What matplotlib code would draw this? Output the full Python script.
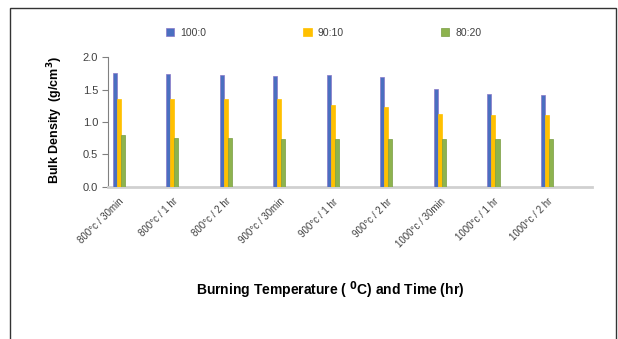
import matplotlib
matplotlib.use("Agg")
import matplotlib.pyplot as plt
import numpy as np
from matplotlib.patches import Rectangle

plt.rcParams["font.family"] = ["Liberation Sans", "DejaVu Sans"]

categories = ["800°c / 30min", "800°c / 1 hr", "800°c / 2 hr",
              "900°c / 30min", "900°c / 1 hr", "900°c / 2 hr",
              "1000°c / 30min", "1000°c / 1 hr", "1000°c / 2 hr"]
series = ["100:0", "90:10", "80:20"]
dens_100_0 = [1.76, 1.74, 1.73, 1.71, 1.73, 1.70, 1.51, 1.44, 1.42]
dens_90_10 = [1.36, 1.36, 1.36, 1.35, 1.27, 1.23, 1.12, 1.11, 1.11]
dens_80_20 = [0.80, 0.76, 0.76, 0.74, 0.74, 0.74, 0.73, 0.73, 0.73]

colors = ["#4a6fc0", "#ffc000", "#8db34e"]
edges = ["#8a78c8", "#ffc000", "#7a9c42"]

fig = plt.figure(figsize=(6.18, 3.39), dpi=100)
ax = fig.add_axes([108 / 618, 1 - 186.7 / 339, (592 - 108) / 618, (186.7 - 57.3) / 339])

# outer frame of the figure box (runs off the bottom)
fig.patches.append(Rectangle((10 / 618, -0.05), 606 / 618, 1.05 - 8 / 339,
                             transform=fig.transFigure, fill=False,
                             ec="#333333", lw=1.0))

x = np.arange(len(categories))
w = 0.075
for i, (vals, name) in enumerate(zip([dens_100_0, dens_90_10, dens_80_20], series)):
    ax.bar(x + (i - 1) * w, vals, width=w, color=colors[i], edgecolor=edges[i],
           lw=0.5, label=name, zorder=3)

ax.set_xlim(-0.2, 8.84)
ax.set_ylim(0, 2.0)
ax.set_yticks([0, 0.5, 1.0, 1.5, 2.0])
ax.set_yticklabels(["0.0", "0.5", "1.0", "1.5", "2.0"], fontsize=8, color="#404040")
ax.set_xticks(x)
ax.set_xticklabels(categories, rotation=45, ha="right", rotation_mode="anchor",
                   fontsize=7, color="#404040")
ax.tick_params(axis="x", length=0, pad=7)
ax.tick_params(axis="y", length=4, color="#808080", direction="out", pad=3)

for s in ["top", "right"]:
    ax.spines[s].set_visible(False)
ax.spines["left"].set_color("#808080")
ax.spines["bottom"].set_color("#d0d0d0")
ax.spines["bottom"].set_linewidth(2)

ax.legend(loc="lower left", bbox_to_anchor=(0.1, 1.08), ncol=3, frameon=False,
          fontsize=7.5, handlelength=0.8, handleheight=0.9, columnspacing=9.3,
          handletextpad=0.6, labelcolor="#404040")

fig.text(55 / 618, 1 - 120 / 339, r"Bulk Density  (g/cm$^{\mathbf{3}}$)",
         rotation=90, ha="center", va="center", fontsize=9, fontweight="bold")
fig.text(330 / 618, 1 - 290 / 339,
         r"Burning Temperature ( $^{\mathbf{0}}$C) and Time (hr)",
         ha="center", va="center", fontsize=10, fontweight="bold")

fig.savefig("out.png", dpi=100)
